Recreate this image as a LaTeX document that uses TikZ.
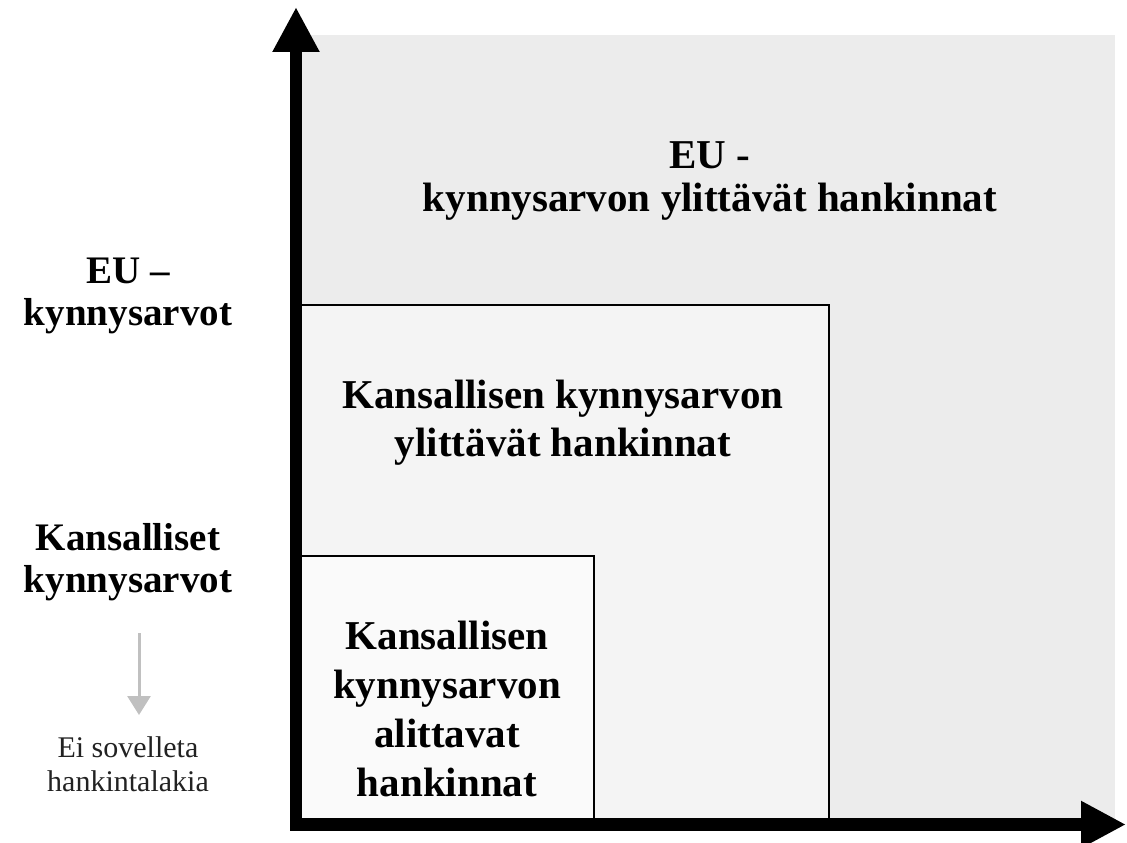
\documentclass[tikz,border=0pt]{standalone}
\usepackage{fontspec}
\setmainfont{Liberation Serif}
\usetikzlibrary{arrows.meta}
\definecolor{outerbg}{HTML}{ECECEC}
\definecolor{midbg}{HTML}{F4F4F4}
\definecolor{smallbg}{HTML}{FAFAFA}
\definecolor{arrowgrey}{HTML}{C0C0C0}
\definecolor{textgrey}{HTML}{222222}
\tikzset{
  axisline/.style={line width=12.5pt, draw=black, -{Triangle[length=45pt,width=44pt]}},
  box/.style={draw=black, line width=2.5pt},
  bigtext/.style={align=center, inner sep=0pt, text=black, font=\fontsize{41}{42}\selectfont\bfseries},
  greyarrow/.style={line width=3pt, draw=arrowgrey, -{Triangle[length=19pt,width=23pt]}},
  smalltext/.style={align=center, inner sep=0pt, text=textgrey, font=\fontsize{30}{34}\selectfont}
}
\begin{document}
\begin{tikzpicture}[x=1pt,y=-1pt]
\useasboundingbox (0,0) rectangle (1127,843);
% regions
\fill[outerbg] (302,35) rectangle (1115,822);
\filldraw[box, fill=midbg] (296,305) rectangle (829,824);
\filldraw[box, fill=smallbg] (296,556) rectangle (594,824);
% axes
\coordinate (O) at (296,824.5);
\coordinate (ytop) at (296,7);
\coordinate (xend) at (1126,824.5);
\draw[axisline] ([yshift=6pt]O) -- (ytop);
\draw[axisline] ([xshift=-6pt]O) -- (xend);
% texts
\node[bigtext, font=\fontsize{41}{43}\selectfont\bfseries] (eu) at (710,181) {EU -\\kynnysarvon ylittävät hankinnat};
\node[bigtext, font=\fontsize{41}{48}\selectfont\bfseries] (kans) at (563,423) {Kansallisen kynnysarvon\\ylittävät hankinnat};
\node[bigtext, font=\fontsize{41}{49}\selectfont\bfseries] (alit) at (447,709) {Kansallisen\\kynnysarvon\\alittavat\\hankinnat};
\node[bigtext, font=\fontsize{39}{42}\selectfont\bfseries] (eul) at (128,296) {EU –\\kynnysarvot};
\node[bigtext, font=\fontsize{39}{42}\selectfont\bfseries] (kl) at (128,562) {Kansalliset\\kynnysarvot};
\node[smalltext] (ei) at (128,764) {Ei sovelleta\\hankintalakia};
\coordinate (a1) at (139,633);
\coordinate (a2) at (139,715);
\draw[greyarrow] (a1) -- (a2);
\end{tikzpicture}
\end{document}
